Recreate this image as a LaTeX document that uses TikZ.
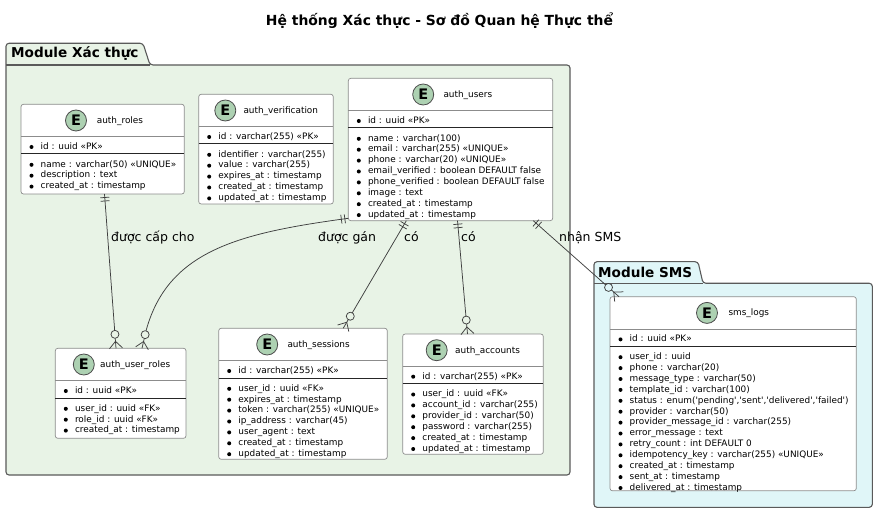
\documentclass[tikz,border=0pt]{standalone}
\usepackage{fontspec}
\setmainfont{DejaVu Sans}[Ligatures=TeXOff]
\usetikzlibrary{calc}
\definecolor{authbg}{HTML}{E8F3E6}
\definecolor{smsbg}{HTML}{E0F6F8}
\definecolor{pkgborder}{HTML}{5A5A5A}
\definecolor{entborder}{HTML}{8C8C8C}
\definecolor{spot}{HTML}{ADD1B2}
\definecolor{connc}{HTML}{3F3F3F}
\newcommand\fieldfont{\fontsize{8.9}{10}\selectfont}
\tikzset{
  pkgline/.style={draw=pkgborder, line width=1.1pt, rounded corners=3pt},
  ebox/.style={draw=entborder, fill=white, line width=0.7pt, rounded corners=2.5pt, inner sep=0pt, outer sep=0pt, rectangle},
  thinsep/.style={draw=entborder, line width=0.7pt},
  thicksep/.style={draw=black!85, line width=1pt},
  spotc/.style={circle, draw=black!70, fill=spot, line width=0.8pt, minimum size=21pt, inner sep=0pt, font=\fontsize{14.5}{15}\bfseries\selectfont},
  etitle/.style={anchor=base west, inner sep=0pt, font=\fieldfont},
  ftext/.style={anchor=base west, inner sep=0pt, font=\fieldfont},
  conn/.style={draw=connc, line width=0.75pt},
  rlabel/.style={anchor=base west, inner sep=0pt, font=\fontsize{12.5}{13}\selectfont},
  pkglabel/.style={anchor=base west, inner sep=0pt, font=\fontsize{13.6}{14}\bfseries\selectfont},
}
\newcommand\entity[5]{%
  \node[ebox, minimum width=#4pt, minimum height=#5pt, anchor=north west] (#1) at (#2,#3) {};
  \draw[thinsep] ($(#1.north west)+(0,32.2)$) -- ($(#1.north east)+(0,32.2)$);
  \draw[thicksep] ($(#1.north west)+(0,49.7)$) -- ($(#1.north east)+(0,49.7)$);
}
\newcommand\enthead[4]{%
  \node[spotc] (#1-spot) at ($(#1.north west)+(#2,16.2)$) {E};
  \node[etitle] (#1-title) at ($(#1.north west)+(#3,19.2)$) {#4};
}
\newcommand\entfields[3]{%
  \fill ($(#1.north west)+(10.5,42.7)$) circle[radius=2pt];
  \node[ftext] (#1-id) at ($(#1.north west)+(19.5,45)$) {#2};
  \foreach \f [count=\i] in {#3} {
    \pgfmathsetmacro\yy{59.5+(\i-1)*10.9}
    \fill ($(#1.north west)+(10.5,\yy+1)$) circle[radius=2pt];
    \node[ftext] (#1-f\i) at ($(#1.north west)+(19.5,\yy+3.3)$) {\f};
  }
}
\newcommand\bars[2]{%
  \coordinate (bA) at ($(#1)!3.5pt!(#2)$);
  \coordinate (bB) at ($(#1)!7pt!(#2)$);
  \draw[conn] ($(bA)!4.5pt!90:(#2)$) -- ($(bA)!4.5pt!-90:(#2)$);
  \draw[conn] ($(bB)!4.5pt!90:(#2)$) -- ($(bB)!4.5pt!-90:(#2)$);
}
\newcommand\crow[2]{%
  \draw[conn] ($(#1)!6.5pt!90:(#2)$) -- ($(#1)!7pt!(#2)$) -- ($(#1)!6.5pt!-90:(#2)$);
  \draw[conn] (#1) -- ($(#1)!10pt!(#2)$);
  \draw[conn] ($(#1)!14pt!(#2)$) circle[radius=4pt];
}
\begin{document}
\begin{tikzpicture}[x=1pt, y=-1pt]
\useasboundingbox (0,0) rectangle (886,521);
\fill[white] (0,0) rectangle (886,521);
% title
\node[anchor=base, inner sep=0pt, font=\fontsize{13.9}{14}\bfseries\selectfont] (title) at (439.5,25.7) {Hệ thống Xác thực - Sơ đồ Quan hệ Thực thể};
% packages
\draw[pkgline, fill=authbg] (6,65) -- (6,43.3) -- (143,43.3) -- (150,65) -- (570,65) -- (570,475) -- (6,475) -- cycle;
\draw[pkgline] (6,65) -- (150,65);
\node[pkglabel] (pkgA) at (11,57.3) {Module Xác thực};
\draw[pkgline, fill=smsbg] (594,283.3) -- (594,261.7) -- (698,261.7) -- (703,283.3) -- (872.3,283.3) -- (872.3,507.3) -- (594,507.3) -- cycle;
\draw[pkgline] (594,283.3) -- (703,283.3);
\node[pkglabel] (pkgB) at (598,277.7) {Module SMS};
% entities
\entity{roles}{21}{104.3}{163.3}{89.7}
\enthead{roles}{55}{75.7}{auth\_roles}
\entfields{roles}{id : uuid «PK»}{{name : varchar(50) «UNIQUE»},{description : text},{created\_at : timestamp}}

\entity{verif}{198.7}{94.3}{134.6}{109.7}
\enthead{verif}{26.6}{44.6}{auth\_verification}
\entfields{verif}{id : varchar(255) «PK»}{{identifier : varchar(255)},{value : varchar(255)},{expires\_at : timestamp},{created\_at : timestamp},{updated\_at : timestamp}}

\entity{users}{348.3}{78.3}{204.4}{142.4}
\enthead{users}{74.9}{95}{auth\_users}
\entfields{users}{id : uuid «PK»}{{name : varchar(100)},{email : varchar(255) «UNIQUE»},{phone : varchar(20) «UNIQUE»},{email\_verified : boolean DEFAULT false},{phone\_verified : boolean DEFAULT false},{image : text},{created\_at : timestamp},{updated\_at : timestamp}}

\entity{uroles}{55.3}{348.3}{130.7}{90}
\enthead{uroles}{28.5}{44.7}{auth\_user\_roles}
\entfields{uroles}{id : uuid «PK»}{{user\_id : uuid «FK»},{role\_id : uuid «FK»},{created\_at : timestamp}}

\entity{sessions}{218.7}{328.3}{168.6}{131}
\enthead{sessions}{48.5}{68.6}{auth\_sessions}
\entfields{sessions}{id : varchar(255) «PK»}{{user\_id : uuid «FK»},{expires\_at : timestamp},{token : varchar(255) «UNIQUE»},{ip\_address : varchar(45)},{user\_agent : text},{created\_at : timestamp},{updated\_at : timestamp}}

\entity{accounts}{402.7}{334}{140.6}{120.3}
\enthead{accounts}{34}{52.3}{auth\_accounts}
\entfields{accounts}{id : varchar(255) «PK»}{{user\_id : uuid «FK»},{account\_id : varchar(255)},{provider\_id : varchar(50)},{password : varchar(255)},{created\_at : timestamp},{updated\_at : timestamp}}

\entity{sms}{610}{296.7}{246.3}{194.1}
\enthead{sms}{97}{118.3}{sms\_logs}
\entfields{sms}{id : uuid «PK»}{{user\_id : uuid},{phone : varchar(20)},{message\_type : varchar(50)},{template\_id : varchar(100)},{status : enum('pending','sent','delivered','failed')},{provider : varchar(50)},{provider\_message\_id : varchar(255)},{error\_message : text},{retry\_count : int DEFAULT 0},{idempotency\_key : varchar(255) «UNIQUE»},{created\_at : timestamp},{sent\_at : timestamp},{delivered\_at : timestamp}}

% connectors
\coordinate (s1) at ($(roles.south west)+(83.5,0)$);
\coordinate (e1) at ($(uroles.north west)+(60.7,0)$);
\draw[conn] (s1) -- ($(e1)!18pt!(s1)$);
\bars{s1}{e1}
\crow{e1}{s1}

\coordinate (s2) at ($(users.south west)+(0,-2.4)$);
\coordinate (e2) at ($(uroles.north west)+(86.7,0)$);
\coordinate (d2) at ($(e2)+(3,-13)$);
\coordinate (c2a) at (240,233);
\coordinate (c2b) at (168,250);
\draw[conn] (s2) .. controls (c2a) and (c2b) .. ($(e2)!18pt!(d2)$);
\bars{s2}{c2a}
\crow{e2}{d2}

\coordinate (s3) at ($(users.south west)+(58,0)$);
\coordinate (e3) at ($(sessions.north west)+(124.5,0)$);
\draw[conn] (s3) -- ($(e3)!18pt!(s3)$);
\bars{s3}{e3}
\crow{e3}{s3}

\coordinate (s4) at ($(users.south west)+(109.2,0)$);
\coordinate (e4) at ($(accounts.north west)+(64.8,0)$);
\draw[conn] (s4) -- ($(e4)!18pt!(s4)$);
\bars{s4}{e4}
\crow{e4}{s4}

\coordinate (s5) at ($(users.south west)+(185,0)$);
\coordinate (e5) at ($(sms.north west)+(9,0)$);
\draw[conn] (s5) -- ($(e5)!18pt!(s5)$);
\bars{s5}{e5}
\crow{e5}{s5}

% labels
\node[rlabel] (l1) at (111,241.5) {được cấp cho};
\node[rlabel] (l2) at (318,241.5) {được gán};
\node[rlabel] (l3) at (404,241.5) {có};
\node[rlabel] (l4) at (461,241.5) {có};
\node[rlabel] (l5) at (559,241.5) {nhận SMS};
\end{tikzpicture}
\end{document}
